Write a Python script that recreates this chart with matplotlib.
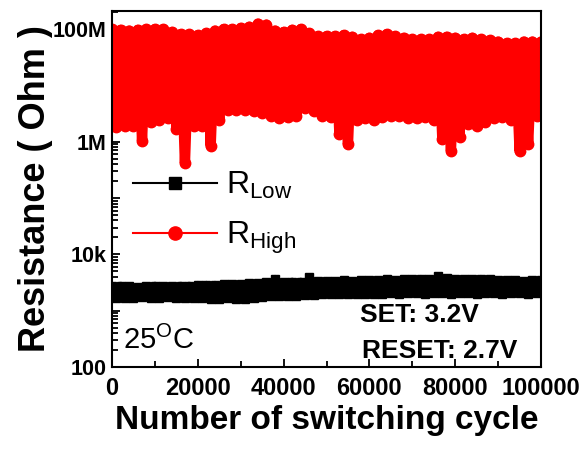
import numpy as np
import matplotlib
matplotlib.use("Agg")
import matplotlib.pyplot as plt
from matplotlib.lines import Line2D
from matplotlib.ticker import FixedLocator, LogLocator, FuncFormatter

plt.rcParams['font.family'] = ['Liberation Sans', 'DejaVu Sans']
plt.rcParams['mathtext.fontset'] = 'custom'
plt.rcParams['mathtext.rm'] = 'Liberation Sans'
plt.rcParams['mathtext.it'] = 'Liberation Sans'
plt.rcParams['mathtext.bf'] = 'Liberation Sans:bold'
# keep every zig-zag segment of the dense traces
plt.rcParams['path.simplify'] = False

# ---- data -------------------------------------------------------------
# Sampled cycle numbers: upper readings on even kilocycles, lower on odd ones
cycle_upper = np.arange(0, 100001, 2000)
cycle_lower = np.arange(1000, 100000, 2000)

# High-resistance state (MOhm): upper and lower readings of each pair
r_high_upper = [100, 97, 94, 97, 100, 100, 100, 89, 81, 81,
                78, 85, 94, 100, 100, 105, 110, 125, 120, 94,
                89, 97, 100, 85, 75, 75, 75, 78, 73, 66,
                70, 78, 81, 75, 70, 66, 66, 66, 73, 73,
                70, 66, 70, 66, 63, 60, 56, 56, 60, 60, 60]
r_high_lower = [1.8, 1.9, 1.9, 1.05, 2.2, 2.4, 2.6, 1.7, 0.42, 1.9,
                1.9, 0.85, 2.4, 3.7, 3.7, 3.7, 3.5, 3.2, 2.9, 2.6,
                2.7, 2.9, 3.9, 3.5, 2.9, 2.7, 1.4, 0.9, 2.4, 2.6,
                2.4, 2.7, 2.9, 2.9, 2.6, 2.6, 2.7, 2.4, 1.1, 0.69,
                1.23, 2.1, 1.9, 2.2, 2.6, 2.7, 2.4, 0.69, 0.9, 2.9]

# Low-resistance state (kOhm)
r_low_upper = [2.7, 2.8, 2.7, 2.6, 2.7, 2.8, 2.7, 2.7, 2.8, 2.8,
               2.9, 2.9, 2.9, 3.0, 3.0, 3.0, 3.1, 3.1, 3.2, 3.7,
               3.2, 3.3, 3.3, 3.9, 3.4, 3.4, 3.4, 3.5, 3.4, 3.5,
               3.5, 3.5, 3.6, 3.5, 3.6, 3.6, 3.7, 3.6, 4.1, 3.8,
               3.6, 3.6, 3.6, 3.7, 3.6, 3.5, 3.5, 3.5, 3.4, 3.5, 3.5]
r_low_lower = [1.65, 1.7, 1.7, 1.75, 1.7, 1.7, 1.75, 1.7, 1.7, 1.7,
               1.65, 1.6, 1.6, 1.65, 1.6, 1.6, 1.7, 1.75, 1.8, 1.8,
               1.85, 1.85, 1.9, 1.9, 1.95, 1.95, 2.0, 1.95, 2.0, 2.0,
               2.0, 2.0, 2.05, 2.0, 2.05, 2.05, 2.0, 2.05, 2.05, 2.0,
               2.05, 2.05, 2.0, 2.05, 2.05, 2.0, 2.05, 2.05, 2.0, 2.05]

y_tick_values = [1e2, 1e4, 1e6, 1e8]
y_tick_labels = ['100', '10k', '1M', '100M']
x_tick_values = [0, 20000, 40000, 60000, 80000, 100000]


def interleave(a, b):
    """Merge the upper readings (one more than lower) with the lower ones."""
    out = np.empty(len(a) + len(b))
    out[0::2] = a
    out[1::2] = b
    return out


cycles = interleave(cycle_upper, cycle_lower)
r_high = interleave(np.array(r_high_upper) * 1e6, np.array(r_high_lower) * 1e6)
r_low = interleave(np.array(r_low_upper) * 1e3, np.array(r_low_lower) * 1e3)

# ---- figure -----------------------------------------------------------
fig = plt.figure(figsize=(5.84, 4.5), dpi=100)
ax = fig.add_axes([0.1918, 0.1844, 0.7346, 0.7912])

red = '#ff0000'
ax.plot(cycles, r_high, color=red, lw=7.5, marker='o', ms=7.5,
        mec=red, mfc=red, solid_joinstyle='round', solid_capstyle='round',
        zorder=3, clip_on=True)
ax.plot(cycles, r_low, color='black', lw=5.5, marker='s', ms=6.3,
        mec='black', mfc='black', solid_joinstyle='round', solid_capstyle='round',
        zorder=3, clip_on=True)

ax.set_yscale('log')
ax.set_ylim(100, 2.1e8)
ax.set_xlim(0, 100000)

ax.xaxis.set_major_locator(FixedLocator(x_tick_values))
ax.xaxis.set_minor_locator(FixedLocator(np.arange(10000, 100000, 20000)))
ax.yaxis.set_major_locator(LogLocator(base=10, numticks=20))
ax.yaxis.set_minor_locator(LogLocator(base=10, subs=np.arange(2, 10), numticks=20))
label_map = dict(zip(y_tick_values, y_tick_labels))


def y_fmt(v, pos):
    for k, s in label_map.items():
        if abs(np.log10(v) - np.log10(k)) < 1e-6:
            return s
    return ''


ax.yaxis.set_major_formatter(FuncFormatter(y_fmt))
ax.yaxis.set_minor_formatter(FuncFormatter(lambda v, p: ''))

ax.tick_params(axis='both', which='both', direction='in', top=False, right=False,
               width=1.3)
ax.tick_params(axis='x', labelsize=17, pad=7)
ax.tick_params(axis='y', labelsize=15.5, pad=4)
ax.tick_params(axis='both', which='major', length=6)
ax.tick_params(axis='both', which='minor', length=4)
for lab in ax.get_xticklabels() + ax.get_yticklabels():
    lab.set_fontweight('bold')
for sp in ax.spines.values():
    sp.set_linewidth(1.5)
    sp.set_zorder(5)

ax.set_xlabel('Number of switching cycle', fontsize=24, fontweight='bold', labelpad=4)
ax.set_ylabel('Resistance ( Ohm )', fontsize=26, fontweight='bold', labelpad=0)

# legend
handles = [
    Line2D([], [], color='black', lw=1.5, marker='s', ms=8.5),
    Line2D([], [], color=red, lw=1.5, marker='o', ms=9.5),
]
labels = [r'R$_{\mathregular{Low}}$', r'R$_{\mathregular{High}}$']
ax.legend(handles, labels, loc='center left', bbox_to_anchor=(0.05, 0.432),
          frameon=False, fontsize=23, handlelength=2.6, handletextpad=0.3,
          labelspacing=0.6, borderpad=0, borderaxespad=0)

ax.text(0.026, 0.05, r'25$^{\mathregular{O}}$C', transform=ax.transAxes,
        fontsize=21, ha='left', va='baseline')
ax.text(0.578, 0.126, 'SET: 3.2V', transform=ax.transAxes,
        fontsize=19, fontweight='bold', ha='left', va='baseline')
ax.text(0.583, 0.025, 'RESET: 2.7V', transform=ax.transAxes,
        fontsize=19, fontweight='bold', ha='left', va='baseline')

fig.savefig('out.png', dpi=100)
